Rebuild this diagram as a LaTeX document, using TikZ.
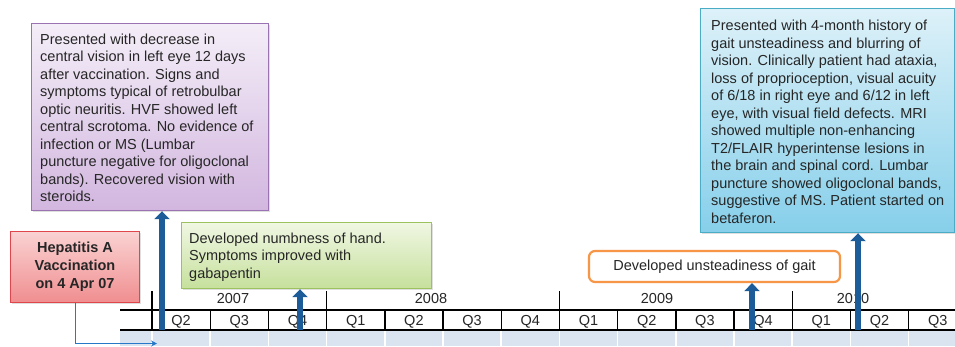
\documentclass[tikz,border=0pt]{standalone}
\usepackage{fontspec}
\setmainfont{Liberation Sans}
\usetikzlibrary{arrows.meta,shadows}
\definecolor{txt}{HTML}{262626}
\definecolor{evtblue}{RGB}{28,92,152}
\definecolor{connblue}{RGB}{40,120,200}
\definecolor{bandblue}{HTML}{DAE3F0}
\definecolor{purpleborder}{HTML}{9B72B2}
\definecolor{purpletop}{HTML}{F4EEF8}
\definecolor{purplebot}{HTML}{D2B6DF}
\definecolor{redborder}{HTML}{E0474C}
\definecolor{redtop}{HTML}{FAD2D2}
\definecolor{redbot}{HTML}{F08E90}
\definecolor{greenborder}{HTML}{9BC25E}
\definecolor{greentop}{HTML}{F0F7E3}
\definecolor{greenbot}{HTML}{C6E09C}
\definecolor{cyanborder}{HTML}{4BACC6}
\definecolor{cyantop}{HTML}{DDF1F9}
\definecolor{cyanbot}{HTML}{86CFEA}
\definecolor{orangeborder}{HTML}{F79646}
\tikzset{
  boxshape/.style={anchor=north west, inner sep=0pt, line width=1.2pt,
    drop shadow={shadow xshift=1.2pt, shadow yshift=-1.2pt, opacity=0.25}},
  boxtxt/.style={anchor=north west, inner sep=0pt, align=left, text=txt},
  evt/.style={draw=evtblue, line width=6.5pt, -{Triangle[width=15pt,length=8pt]}},
  conn/.style={draw=connblue, line width=1pt, -{Stealth[length=6pt,width=6pt]}},
  tl/.style={draw=black, line width=1.4pt},
  sep/.style={draw=white, line width=1.6pt},
  qlab/.style={anchor=base, inner sep=0pt, text=txt},
}
\begin{document}
\begin{tikzpicture}[x=1pt,y=-1pt,font=\fontsize{14.5}{17.5}\selectfont]
\useasboundingbox (0,0) rectangle (955,346);
\fill[white] (0,0) rectangle (955,346);

% timeline band
\fill[bandblue] (120,330) rectangle (955,346);
\foreach \i in {0,...,13}{
  \draw[sep] ({152+58.2*\i},330) -- ({152+58.2*\i},346);
}
% quarter row lines
\draw[tl] (120,310) -- (955,310);
\draw[tl] (120,330) -- (955,330);
\foreach \i in {1,2,4,5,6,8,9,10,12,13}{
  \draw[tl] ({152+58.2*\i},310) -- ({152+58.2*\i},330);
}
% year ticks
\foreach \i in {0,3,7,11}{
  \draw[tl] ({152+58.2*\i},291) -- ({152+58.2*\i},330);
}
% year labels
\node[qlab] (y2007) at (233,303) {2007};
\node[qlab] (y2008) at (431,303) {2008};
\node[qlab] (y2009) at (657,303) {2009};
\node[qlab] (y2010) at (853,303) {2010};
% quarter labels
\foreach \q [count=\i from 0] in {Q2,Q3,Q4,Q1,Q2,Q3,Q4,Q1,Q2,Q3,Q4,Q1,Q2,Q3}{
  \node[qlab] (q\i) at ({152+58.2*\i+29.1},325.5) {\q};
}

% boxes
\node[boxshape, draw=purpleborder, top color=purpletop, bottom color=purplebot,
  minimum width=237pt, minimum height=187pt] (purple) at (31,23) {};
\node[boxtxt] (purpletxt) at (40,33.5) {Presented with decrease in\\
central vision in left eye 12 days\\
after vaccination. Signs and\\
symptoms typical of retrobulbar\\
optic neuritis. HVF showed left\\
central scrotoma. No evidence of\\
infection or MS (Lumbar\\
puncture negative for oligoclonal\\
bands). Recovered vision with\\
steroids.};

\node[boxshape, draw=cyanborder, top color=cyantop, bottom color=cyanbot,
  minimum width=254pt, minimum height=224pt] (cyan) at (700,8) {};
\node[boxtxt] (cyantxt) at (711,20) {Presented with 4-month history of\\
gait unsteadiness and blurring of\\
vision. Clinically patient had ataxia,\\
loss of proprioception, visual acuity\\
of 6/18 in right eye and 6/12 in left\\
eye, with visual field defects. MRI\\
showed multiple non-enhancing\\
T2/FLAIR hyperintense lesions in\\
the brain and spinal cord. Lumbar\\
puncture showed oligoclonal bands,\\
suggestive of MS. Patient started on\\
betaferon.};

\node[boxshape, draw=greenborder, top color=greentop, bottom color=greenbot,
  minimum width=250pt, minimum height=66pt] (green) at (181,222) {};
\node[boxtxt] (greentxt) at (189,232.5) {Developed numbness of hand.\\
Symptoms improved with\\
gabapentin};

\node[boxshape, draw=redborder, top color=redtop, bottom color=redbot,
  minimum width=129pt, minimum height=71pt] (red) at (10,231) {};
\node[anchor=north, inner sep=0pt, align=center, text=txt, font=\fontsize{14.5}{18}\selectfont\bfseries]
  (redtxt) at (75,241.5) {Hepatitis A\\Vaccination\\on 4 Apr 07};

\node[draw=orangeborder, line width=2.2pt, rounded corners=6pt, fill=white,
  minimum width=251pt, minimum height=31pt, inner sep=0pt, text=txt] (orange) at (714.5,266.5)
  {Developed unsteadiness of gait};

% event arrows
\coordinate (e1) at (162,330);
\coordinate (e2) at (300,330);
\coordinate (e3) at (752,330);
\coordinate (e4) at (858,330);
\draw[evt] (e1) -- (e1 |- purple.south);
\draw[evt] (e2) -- (e2 |- green.south);
\draw[evt] (e3) -- (e3 |- orange.south);
\draw[evt] (e4) -- (e4 |- cyan.south);

% vaccination connector
\coordinate (vacc) at (157,343.5);
\draw[conn] (red.south) |- (vacc);
\end{tikzpicture}
\end{document}
